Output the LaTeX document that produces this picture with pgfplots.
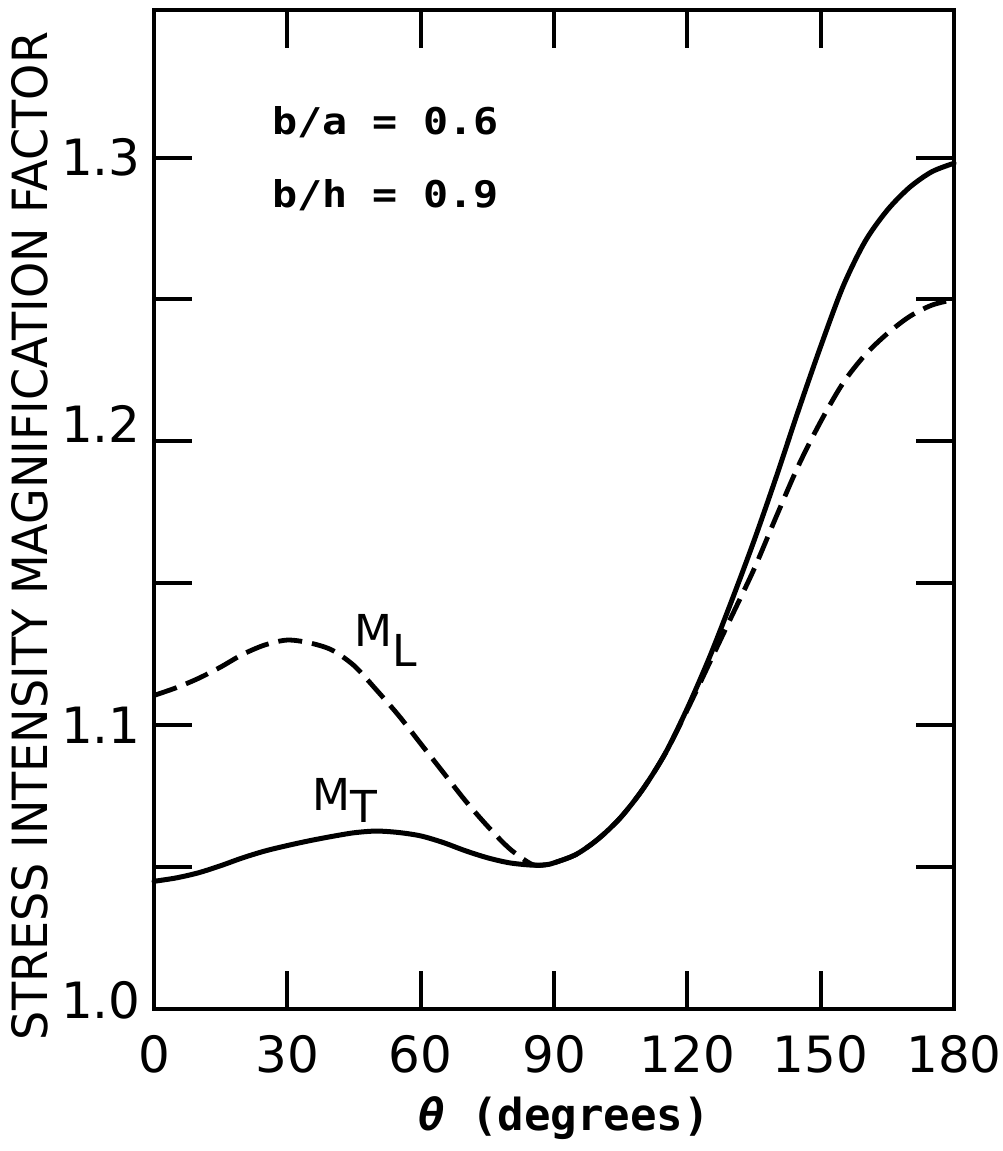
\documentclass[border=0pt]{standalone}
\usepackage{pgfplots}
\pgfplotsset{compat=1.18}
\usepackage{fontspec}
\setmainfont{DejaVu Sans}
\newfontfamily\monofont{DejaVu Sans Mono}

\begin{document}
\begin{tikzpicture}
\begin{axis}[
  scale only axis, width=400pt, height=499.5pt,
  xmin=0, xmax=180, ymin=1.0, ymax=1.352,
  xtick={0,30,...,180},
  ytick={1.0,1.1,1.2,1.3},
  yticklabels={\raisebox{9pt}{1.0},1.1,\raisebox{17pt}{1.2},1.3},
  minor ytick={1.05,1.15,1.25},
  major tick length=19pt, minor tick length=19pt,
  tick align=inside,
  axis line style={line width=2pt},
  every tick/.style={line width=2pt, black},
  ticklabel style={font=\fontsize{25}{28}\selectfont, inner sep=0pt},
  xticklabel style={yshift=-13pt},
  yticklabel style={xshift=-6.5pt},
  /pgf/number format/assume math mode=true,
  clip=false,
  xlabel={\resizebox{146pt}{!}{\monofont\bfseries{\itshape θ} (degrees)}},
  xlabel style={at={(axis description cs:0.5125,-0.1211)}, anchor=base, inner sep=0pt},
  ylabel={\resizebox{504pt}{18pt}{STRESS INTENSITY MAGNIFICATION FACTOR}},
  ylabel style={at={(axis description cs:-0.155,0.4735)}, anchor=center, inner sep=0pt},
]
% M_T (solid)
\addplot[black, line width=2.5pt, smooth, line cap=round] coordinates {
(0,1.045) (5,1.0462) (10,1.0480) (15,1.0505) (20,1.0533) (25,1.0557) (30,1.0576)
(35,1.0593) (40,1.0608) (45,1.0621) (50,1.0627) (55,1.0622) (60,1.0610) (65,1.0587)
(70,1.0558) (75,1.0533) (80,1.0515) (85,1.0507) (88,1.0508) (90,1.0515) (95,1.0545)
(100,1.0600) (105,1.0675) (110,1.0775) (115,1.0900) (120,1.1060) (125,1.1240)
(130,1.1440) (135,1.1650) (140,1.1875) (145,1.2110) (150,1.2335) (155,1.2545)
(160,1.2705) (165,1.2815) (170,1.2895) (175,1.2950) (180,1.2980)
};
% M_L (dashed)
\addplot[black, line width=2.4pt, smooth, dash pattern=on 12pt off 5pt] coordinates {
(0,1.1105) (5,1.1132) (10,1.1165) (15,1.1205) (20,1.1250) (25,1.1283) (30,1.1300)
(35,1.1290) (40,1.1265) (45,1.1210) (50,1.1125) (55,1.1035) (60,1.0935) (65,1.0835)
(70,1.0735) (75,1.0645) (80,1.0565) (85,1.0510) (88,1.0508) (90,1.0515) (95,1.0545)
(100,1.0600) (105,1.0675) (110,1.0775) (115,1.0900) (120,1.1055) (125,1.1220)
(130,1.1385) (135,1.1550) (140,1.1735) (145,1.1915) (150,1.2070) (155,1.2205)
(160,1.2305) (165,1.2380) (170,1.2440) (175,1.2480) (180,1.2500)
};
\node[anchor=base west, inner sep=0pt] at (axis cs:26.55,1.308)
  {\resizebox{113pt}{14pt}{\monofont\bfseries b/a = 0.6}};
\node[anchor=base west, inner sep=0pt] at (axis cs:26.55,1.2823)
  {\resizebox{113pt}{14pt}{\monofont\bfseries b/h = 0.9}};
\node[anchor=base west, inner sep=0pt, font=\fontsize{22}{24}\selectfont] at (axis cs:45.0,1.1276)
  {M\raisebox{-10pt}{L}};
\node[anchor=base west, inner sep=0pt, font=\fontsize{22}{24}\selectfont] at (axis cs:35.55,1.0701)
  {M\raisebox{-6pt}{T}};
\coordinate (bbA) at (axis description cs:-0.1925,-0.1421);
\coordinate (bbB) at (axis description cs:1.061,1.01);
\end{axis}
\pgfresetboundingbox
\path (bbA) rectangle (bbB);
\end{tikzpicture}
\end{document}
